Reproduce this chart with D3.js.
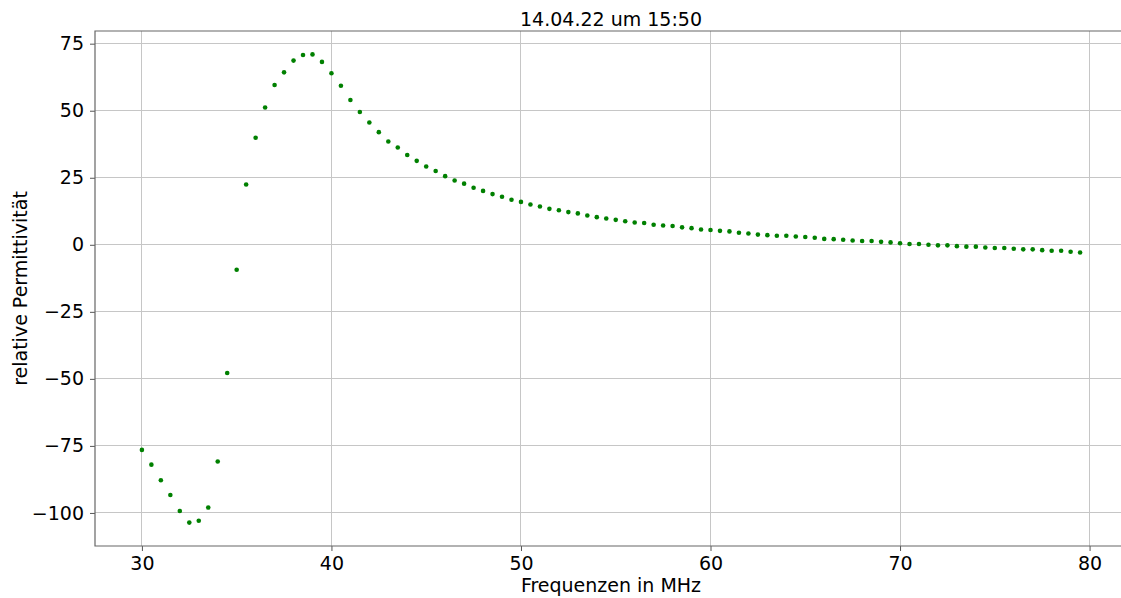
<!DOCTYPE html>
<html>
<head>
<meta charset="utf-8">
<title>relative Permittivität</title>
<script src="https://cdn.jsdelivr.net/npm/d3@7"></script>
<style>
  html, body { margin: 0; padding: 0; background: #fff; overflow: hidden; }
  svg { display: block; overflow: hidden; }
  text { font-family: "DejaVu Sans", sans-serif; fill: #000; }
</style>
</head>
<body>
<script>
// Messfrequenzen in MHz
var freqs = [30, 30.5, 31, 31.5, 32, 32.5, 33, 33.5, 34, 34.5,
  35, 35.5, 36, 36.5, 37, 37.5, 38, 38.5, 39, 39.5,
  40, 40.5, 41, 41.5, 42, 42.5, 43, 43.5, 44, 44.5,
  45, 45.5, 46, 46.5, 47, 47.5, 48, 48.5, 49, 49.5,
  50, 50.5, 51, 51.5, 52, 52.5, 53, 53.5, 54, 54.5,
  55, 55.5, 56, 56.5, 57, 57.5, 58, 58.5, 59, 59.5,
  60, 60.5, 61, 61.5, 62, 62.5, 63, 63.5, 64, 64.5,
  65, 65.5, 66, 66.5, 67, 67.5, 68, 68.5, 69, 69.5,
  70, 70.5, 71, 71.5, 72, 72.5, 73, 73.5, 74, 74.5,
  75, 75.5, 76, 76.5, 77, 77.5, 78, 78.5, 79, 79.5];

// relative Permittivitaet
var permittivity = [-76.5, -82.0, -87.8, -93.3, -99.3, -103.6, -102.9, -98.0, -80.8, -47.8,
  -9.3, 22.5, 39.9, 51.2, 59.6, 64.3, 68.7, 70.8, 71.0, 68.2,
  64.0, 59.3, 54.0, 49.5, 45.6, 42.0, 38.5, 36.3, 33.5, 31.3,
  29.2, 27.5, 25.6, 24.0, 22.8, 21.3, 20.1, 18.9, 17.9, 16.8,
  16.0, 15.0, 14.3, 13.4, 12.9, 12.2, 11.7, 10.9, 10.3, 9.8,
  9.3, 8.8, 8.3, 8.1, 7.5, 7.2, 7.0, 6.5, 6.2, 5.7,
  5.5, 5.2, 5.0, 4.5, 4.2, 3.8, 3.6, 3.4, 3.4, 3.1,
  2.9, 2.6, 2.2, 2.1, 1.9, 1.6, 1.4, 1.4, 1.1, 0.9,
  0.6, 0.3, 0.3, 0.0, -0.2, -0.2, -0.5, -0.7, -0.7, -1.0,
  -1.2, -1.2, -1.5, -1.7, -1.7, -2.0, -2.2, -2.2, -2.6, -2.9];

var xTicks = [30, 40, 50, 60, 70, 80];
var yTicks = [-100, -75, -50, -25, 0, 25, 50, 75];

var title = "14.04.22 um 15:50";
var xLabel = "Frequenzen in MHz";
var yLabel = "relative Permittivität";

var svgwidth = 1121,
    svgheight = 598,
    //the plot runs a few px past the window edge, like the original figure
    margin = {top: 31, right: -20, bottom: 52, left: 95},
    plotRight = 1127,
    width = plotRight - margin.left,
    height = svgheight - margin.top - margin.bottom;

var svg = d3.select("body").append("svg")
    .attr("width", svgwidth)
    .attr("height", svgheight);

var g = svg.append("g")
    .attr("transform", "translate(" + margin.left + "," + margin.top + ")");

// matplotlib-style 5% padding around the data
var xMin = d3.min(freqs), xMax = d3.max(freqs),
    yMin = d3.min(permittivity), yMax = d3.max(permittivity),
    xPad = (xMax - xMin) * 0.05, yPad = (yMax - yMin) * 0.05;

var x = d3.scaleLinear().domain([xMin - xPad, xMax + xPad]).range([0, width]),
    y = d3.scaleLinear().domain([yMin - yPad, yMax + yPad]).range([height, 0]);

//grid
g.append("g").selectAll("line")
    .data(xTicks)
    .enter().append("line")
      .attr("x1", function(d) { return x(d); })
      .attr("x2", function(d) { return x(d); })
      .attr("y1", 0).attr("y2", height)
      .attr("stroke", "#c6c6c6").attr("stroke-width", 1)
      .attr("shape-rendering", "crispEdges");

g.append("g").selectAll("line")
    .data(yTicks)
    .enter().append("line")
      .attr("x1", 0).attr("x2", width + 40)
      .attr("y1", function(d) { return y(d); })
      .attr("y2", function(d) { return y(d); })
      .attr("stroke", "#c6c6c6").attr("stroke-width", 1)
      .attr("shape-rendering", "crispEdges");

//axes
var xAxis = g.append("g")
    .attr("transform", "translate(0," + height + ")")
    .call(d3.axisBottom(x).tickValues(xTicks).tickSize(5).tickPadding(6).tickFormat(d3.format("d")));

var yAxis = g.append("g")
    .call(d3.axisLeft(y).tickValues(yTicks).tickSize(5).tickPadding(6).tickFormat(function(d) { return d < 0 ? "\u2212" + Math.abs(d) : d; }));

[xAxis, yAxis].forEach(function(a) {
  a.select(".domain").remove();
  a.selectAll(".tick line").attr("stroke", "#555");
  a.selectAll(".tick text")
    .style("font-family", "DejaVu Sans, sans-serif")
    .style("font-size", "19px")
    .attr("fill", "#000");
});

//spines (left, top, bottom; the right one lies outside the window)
g.append("path")
    .attr("d", "M" + (width + 40) + ",0H0V" + height + "H" + (width + 40))
    .attr("fill", "none")
    .attr("stroke", "#666")
    .attr("stroke-width", 1.2);

//points
g.append("g").selectAll("circle")
    .data(freqs)
    .enter().append("circle")
      .attr("cx", function(d) { return x(d); })
      .attr("cy", function(d, i) { return y(permittivity[i]); })
      .attr("r", 2.3)
      .attr("fill", "#008000");

//labels
svg.append("text")
    .attr("x", margin.left + width / 2)
    .attr("y", 26)
    .attr("text-anchor", "middle")
    .style("font-size", "19px")
    .text(title);

svg.append("text")
    .attr("x", margin.left + width / 2)
    .attr("y", 592)
    .attr("text-anchor", "middle")
    .style("font-size", "19px")
    .text(xLabel);

svg.append("text")
    .attr("transform", "translate(27," + (margin.top + height / 2) + ") rotate(-90)")
    .attr("text-anchor", "middle")
    .style("font-size", "19px")
    .text(yLabel);
</script>
</body>
</html>
